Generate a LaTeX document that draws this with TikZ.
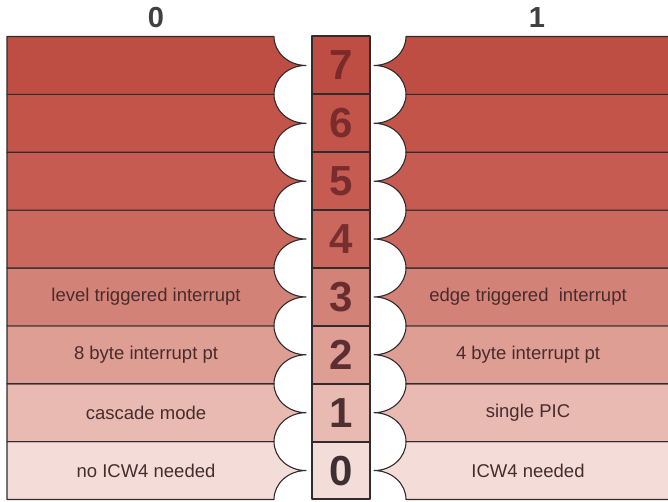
\documentclass[tikz,border=0pt]{standalone}
\usepackage{fontspec}
\setmainfont{Liberation Sans}

% Row fills, top (7) dark red down to pale pink (0)
\definecolor{rowfill7}{RGB}{190,78,68}
\definecolor{rowfill6}{RGB}{194,84,74}
\definecolor{rowfill5}{RGB}{197,91,81}
\definecolor{rowfill4}{RGB}{202,104,94}
\definecolor{rowfill3}{RGB}{211,130,120}
\definecolor{rowfill2}{RGB}{222,158,148}
\definecolor{rowfill1}{RGB}{232,186,178}
\definecolor{rowfill0}{RGB}{244,221,216}
% Digit colours in the centre column
\definecolor{digit7}{RGB}{122,42,42}
\definecolor{digit6}{RGB}{122,44,44}
\definecolor{digit5}{RGB}{120,44,44}
\definecolor{digit4}{RGB}{118,46,46}
\definecolor{digit3}{RGB}{105,45,48}
\definecolor{digit2}{RGB}{92,46,50}
\definecolor{digit1}{RGB}{78,48,50}
\definecolor{digit0}{RGB}{62,48,50}
\definecolor{linegray}{RGB}{48,44,44}
\definecolor{labeltext}{RGB}{72,44,44}
\definecolor{headtext}{RGB}{64,64,64}

\begin{document}
\begin{tikzpicture}[x=1pt, y=1pt, line join=round,
	edge/.style={draw=linegray, line width=1.1pt},
	cellbox/.style={draw=linegray, line width=2pt, minimum width=58pt,
		minimum height=\rh pt, inner sep=0pt,
		font=\bfseries\fontsize{42}{42}\selectfont},
	rowlabel/.style={text=labeltext, inner sep=1pt,
		font=\fontsize{18.5}{20}\selectfont},
	headlabel/.style={text=headtext, inner sep=0pt,
		font=\bfseries\fontsize{29}{29}\selectfont}]
	% Window bounds
	\useasboundingbox (0,0) rectangle (668,502);
	\def\rh{57.875} \def\ry{28.9375} \def\rx{32}
	\def\ybot{2.5}
	\def\xl{7} \def\xa{274} \def\xb{406} \def\xr{680}
	
	% Left and right panels, one row per bit
	\foreach \k in {0,...,7}{
		\pgfmathsetmacro{\yb}{\ybot+\k*\rh}
		\pgfmathsetmacro{\yt}{\yb+\rh}
		\filldraw[edge, fill=rowfill\k] (\xl,\yt) -- (\xa,\yt)
		arc[start angle=180, end angle=270, x radius=\rx, y radius=\ry]
		arc[start angle=90, end angle=180, x radius=\rx, y radius=\ry]
		-- (\xl,\yb) -- cycle;
		\filldraw[edge, fill=rowfill\k] (\xr,\yt) -- (\xb,\yt)
		arc[start angle=0, end angle=-90, x radius=\rx, y radius=\ry]
		arc[start angle=90, end angle=0, x radius=\rx, y radius=\ry]
		-- (\xr,\yb) -- cycle;
	}
	
	% Centre column with bit numbers
	\foreach \k in {0,...,7}{
		\pgfmathsetmacro{\ym}{\ybot+(\k+0.5)*\rh}
		\node[cellbox, fill=rowfill\k, text=digit\k] (cell\k) at (341,\ym) {\k};
	}
	
	% Column headers
	\node[headlabel] (head0) at (156,484.5) {0};
	\node[headlabel] (head1) at (537,484.5) {1};
	
	% Meaning of each bit value
	\foreach \k/\ltext/\rtext in {3/level triggered interrupt/edge triggered\ \ interrupt,
		2/8 byte interrupt pt/4 byte interrupt pt,
		1/cascade mode/single PIC,
		0/no ICW4 needed/ICW4 needed}{
		\pgfmathsetmacro{\ym}{\ybot+(\k+0.5)*\rh}
		\node[rowlabel] (left\k) at (146,\ym) {\ltext};
		\node[rowlabel] (right\k) at (528,\ym) {\rtext};
	}
\end{tikzpicture}
\end{document}
